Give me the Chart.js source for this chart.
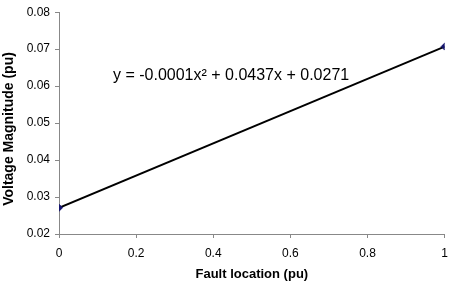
<!DOCTYPE html>
<html>
<head>
<meta charset="utf-8">
<script src="https://cdn.jsdelivr.net/npm/chart.js@4/dist/chart.umd.min.js"></script>
<style>
  html, body { margin: 0; padding: 0; background: #fff; }
  #wrap { width: 456px; height: 282px; }
</style>
</head>
<body>
<div id="wrap"><canvas id="faultChart"></canvas></div>
<script>
const faultLocation = [0, 1];
const voltageMagnitude = [0.0271, 0.0707];
const xTicks = [0, 0.2, 0.4, 0.6, 0.8, 1];
const yTicks = [0.02, 0.03, 0.04, 0.05, 0.06, 0.07, 0.08];
const trendLabel = "y = -0.0001x² + 0.0437x + 0.0271";
const yTitle = "Voltage Magnitude (pu)";

const points = faultLocation.map((x, i) => ({ x: x, y: voltageMagnitude[i] }));

// trend equation + y axis title (title sits a bit below the axis centre in the original)
const textPlugin = {
    id: "extraText",
    afterDraw(chart) {
        const ctx = chart.ctx;
        const area = chart.chartArea;
        ctx.save();
        ctx.fillStyle = "#000";
        ctx.font = "16px 'Liberation Sans', Arial, sans-serif";
        ctx.textBaseline = "alphabetic";
        ctx.fillText(trendLabel, area.left + 54, 80);

        ctx.font = "bold 14px 'Liberation Sans', Arial, sans-serif";
        ctx.textAlign = "center";
        ctx.textBaseline = "middle";
        ctx.translate(9, 129);
        ctx.rotate(-Math.PI / 2);
        ctx.fillText(yTitle, 0, 0);
        ctx.restore();
    },
};

new Chart(document.getElementById("faultChart"), {
    type: "scatter",
    data: {
        datasets: [
            {
                label: "Trend",
                data: points,
                showLine: true,
                borderColor: "#000",
                borderWidth: 2,
                pointRadius: 0,
                order: 2,
            },
            {
                label: "Voltage",
                data: points,
                showLine: false,
                pointStyle: "rectRot",
                pointRadius: 3.5,
                backgroundColor: "#14146e",
                borderColor: "#14146e",
                order: 1,
            },
        ],
    },
    options: {
        responsive: true,
        maintainAspectRatio: false,
        animation: false,
        layout: { padding: { top: 6, right: 8, left: 0, bottom: 0 } },
        plugins: {
            legend: { display: false },
            tooltip: { enabled: false },
        },
        scales: {
            x: {
                type: "linear",
                min: 0,
                max: 1,
                afterBuildTicks: (axis) => {
                    axis.ticks = xTicks.map((v) => ({ value: v }));
                },
                afterFit: (axis) => {
                    axis.height = 48;
                },
                grid: {
                    drawOnChartArea: false,
                    tickLength: 4,
                    color: "#888",
                },
                border: { color: "#888", width: 1 },
                ticks: {
                    color: "#000",
                    padding: 8,
                    maxRotation: 0,
                    font: { family: "'Liberation Sans', Arial", size: 12 },
                    callback: (v) => String(v),
                },
                title: {
                    display: true,
                    text: "Fault location (pu)",
                    color: "#000",
                    padding: { top: 6, bottom: 0 },
                    font: { family: "'Liberation Sans', Arial", size: 13, weight: "bold" },
                },
            },
            y: {
                min: 0.02,
                max: 0.08,
                afterBuildTicks: (axis) => {
                    axis.ticks = yTicks.map((v) => ({ value: v }));
                },
                afterFit: (axis) => {
                    axis.width = 59;
                },
                grid: {
                    drawOnChartArea: false,
                    tickLength: 4,
                    color: "#888",
                },
                border: { color: "#888", width: 1 },
                ticks: {
                    color: "#000",
                    padding: 5,
                    font: { family: "'Liberation Sans', Arial", size: 12 },
                    callback: (v) => v.toFixed(2),
                },
            },
        },
    },
    plugins: [textPlugin],
});
</script>
</body>
</html>
